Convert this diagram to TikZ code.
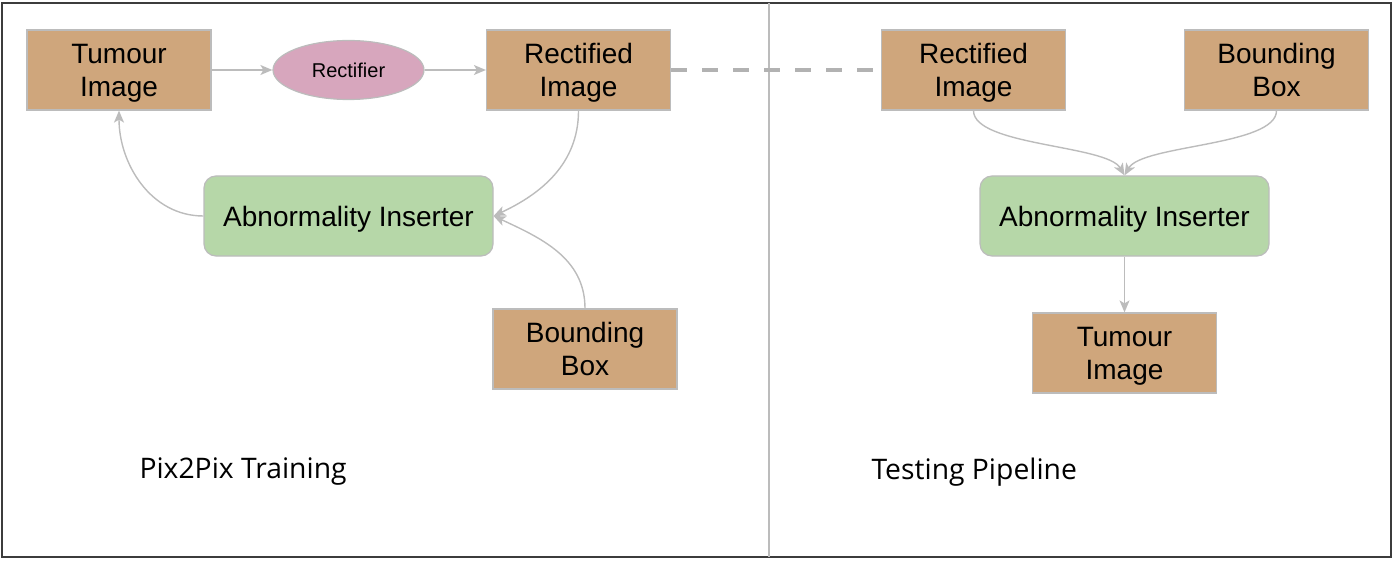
\documentclass[tikz,border=0pt]{standalone}
\usepackage{fontspec}
\setmainfont{Liberation Sans}
\newfontfamily\captionfont{Open Sans}
\usetikzlibrary{shapes.geometric,arrows.meta}
\definecolor{tanfill}{RGB}{207,166,124}
\definecolor{pinkfill}{RGB}{215,166,189}
\definecolor{greenfill}{RGB}{182,215,168}
\definecolor{edgegrey}{RGB}{188,188,188}
\definecolor{framegrey}{RGB}{60,60,60}
\newdimen\rowDist
\rowDist=146pt

\begin{document}
\begin{tikzpicture}[x=1pt,y=1pt,
    box/.style={%
      draw=edgegrey,
      fill=tanfill,
      line width=1.2pt,
      rectangle,
      minimum width=184pt,
      minimum height=80pt,
      align=center,
      text depth=-2pt,
      font=\fontsize{28}{33}\selectfont,
    },
    rect/.style={%
      draw=edgegrey,
      fill=pinkfill,
      line width=1.2pt,
      ellipse,
      minimum width=151pt,
      minimum height=59pt,
      font=\fontsize{20}{24}\selectfont,
    },
    inserter/.style={%
      draw=edgegrey,
      fill=greenfill,
      line width=1.2pt,
      rounded corners=12pt,
      minimum width=289pt,
      minimum height=80pt,
      text depth=-1pt,
      font=\fontsize{28}{33}\selectfont,
    },
    conn/.style={%
      draw=edgegrey,
      line width=1.4pt,
      -{Stealth[length=12pt,width=10pt,inset=3pt]},
    },
    caption/.style={%
      anchor=west,
      font=\captionfont\fontsize{28.3}{34}\selectfont,
    },
  ]

    \useasboundingbox (0,0) rectangle (1396,-561);
    \draw [framegrey, line width=2pt] (2,-3) rectangle (1391,-557);
    \draw [edgegrey, line width=1.4pt] (769,-3) -- (769,-557);

    % training side
    \node [box] (tumL) at (119,-70) {Tumour\\Image};
    \path (tumL) ++(229.5,0) node [rect] (rectifier) {Rectifier};
    \path (rectifier) ++(230,0) node [box] (rectL) {Rectified\\Image};
    \path (rectifier) ++(0,-\rowDist) node [inserter] (abnL) {Abnormality Inserter};
    \node [box] (boxL) at (585,-349) {Bounding\\Box};

    \draw [conn] (tumL) -- (rectifier);
    \draw [conn] (rectifier) -- (rectL);
    \draw [conn] (rectL.south) to [out=-90, in=25] (abnL.east);
    \draw [conn] (boxL.north) to [out=90, in=-25] (abnL.east);
    \draw [conn] (abnL.west) to [out=180, in=-90] (tumL.south);

    % testing side
    \node [box] (rectR) at (973.5,-70) {Rectified\\Image};
    \node [box] (boxR) at (1276.5,-70) {Bounding\\Box};
    \node [inserter] (abnR) at (1124.5,-216) {Abnormality Inserter};
    \path (abnR) ++(0,-137) node [box] (tumR) {Tumour\\Image};

    \draw [conn] (rectR.south) to [out=-90, in=120, looseness=0.55] (abnR.north);
    \draw [conn] (boxR.south) to [out=-90, in=60, looseness=0.55] (abnR.north);
    \draw [conn] (abnR) -- (tumR);

    \draw [edgegrey!95!black, line width=4.5pt, dash pattern=on 16pt off 15pt] (rectL.east) -- (rectR.west);

    \node [caption] (trainCap) at (136,-472) {Pix2Pix Training};
    \node [caption] (testCap) at (868,-472) {Testing Pipeline};
\end{tikzpicture}
\end{document}
